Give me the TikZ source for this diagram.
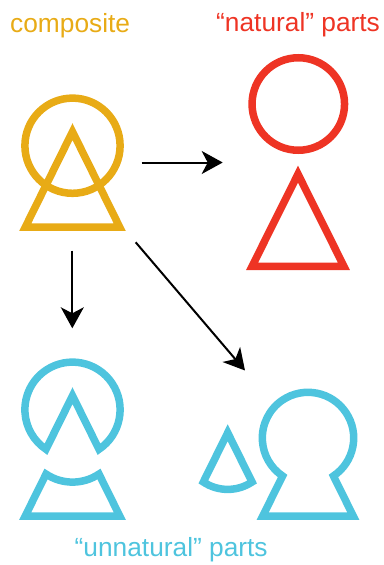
\documentclass[tikz,border=0pt]{standalone}
\usepackage{fontspec}
\setmainfont{Liberation Sans}
\usetikzlibrary{arrows.meta}
\definecolor{corange}{HTML}{E8AB16}
\definecolor{cred}{HTML}{EE3424}
\definecolor{ccyan}{HTML}{4EC4DE}
\begin{document}
\begin{tikzpicture}[x=1pt,y=1pt,
  outl/.style={line width=7.5pt, line join=miter},
  arr/.style={line width=2pt, -{Stealth[length=21pt,width=23pt,inset=6pt]}},
  lbl/.style={inner sep=0pt, anchor=base west, font=\fontsize{26.3}{31}\selectfont}]
\useasboundingbox (0,0) rectangle (383,-565);

% composite
\begin{scope}[shift={(72.5,-145.7)}]
  \draw[outl,corange] (0,0) circle[radius=47.6];
  \draw[outl,corange] (0,14) -- (-47.25,-81.5) -- (47.25,-81.5) -- cycle;
\end{scope}

% natural parts
\draw[outl,cred] (298.3,-104) circle[radius=46.25];
\draw[outl,cred] (298,-174.1) -- (252.1,-266.25) -- (343.9,-266.25) -- cycle;

% unnatural parts: circle minus triangle
\begin{scope}[shift={(72.5,-409.7)}]
  \draw[outl,ccyan] (26.49,-39.55) arc[start angle=-56.19, end angle=236.19, radius=47.6] -- (0,14) -- cycle;
\end{scope}
% triangle minus circle
\begin{scope}[shift={(72.5,-434.5)}]
  \draw[outl,ccyan] (-47.25,-81.5) -- (47.25,-81.5) -- (26.49,-39.55) arc[start angle=-56.19, end angle=-123.81, radius=47.6] -- cycle;
\end{scope}
% intersection (cone)
\begin{scope}[shift={(227.7,-445.6)}, scale=0.92]
  \draw[outl,ccyan] (0,14) -- (-26.49,-39.55) arc[start angle=236.19, end angle=303.81, radius=47.6] -- cycle;
\end{scope}
% keyhole
\begin{scope}[shift={(308,-438)}, scale=0.96]
  \draw[outl,ccyan] (26.49,-39.55) arc[start angle=-56.19, end angle=236.19, radius=47.6] -- (-47.25,-81.5) -- (47.25,-81.5) -- cycle;
\end{scope}

% arrows
\coordinate (h0) at (141.7,-162.5);
\coordinate (h1) at (222.7,-162.5);
\coordinate (v0) at (72.3,-250.7);
\coordinate (v1) at (72.3,-328.3);
\coordinate (d0) at (135.7,-242.3);
\coordinate (d1) at (245,-370.5);
\draw[arr] (h0) -- (h1);
\draw[arr] (v0) -- (v1);
\draw[arr] (d0) -- (d1);

% labels
\node[lbl,corange] (tcomp) at (10,-32.3) {composite};
\node[lbl,cred] (tnat) at (216,-31.7) {“natural” parts};
\node[lbl,ccyan] (tunn) at (74.5,-556.7) {“unnatural” parts};
\end{tikzpicture}
\end{document}
